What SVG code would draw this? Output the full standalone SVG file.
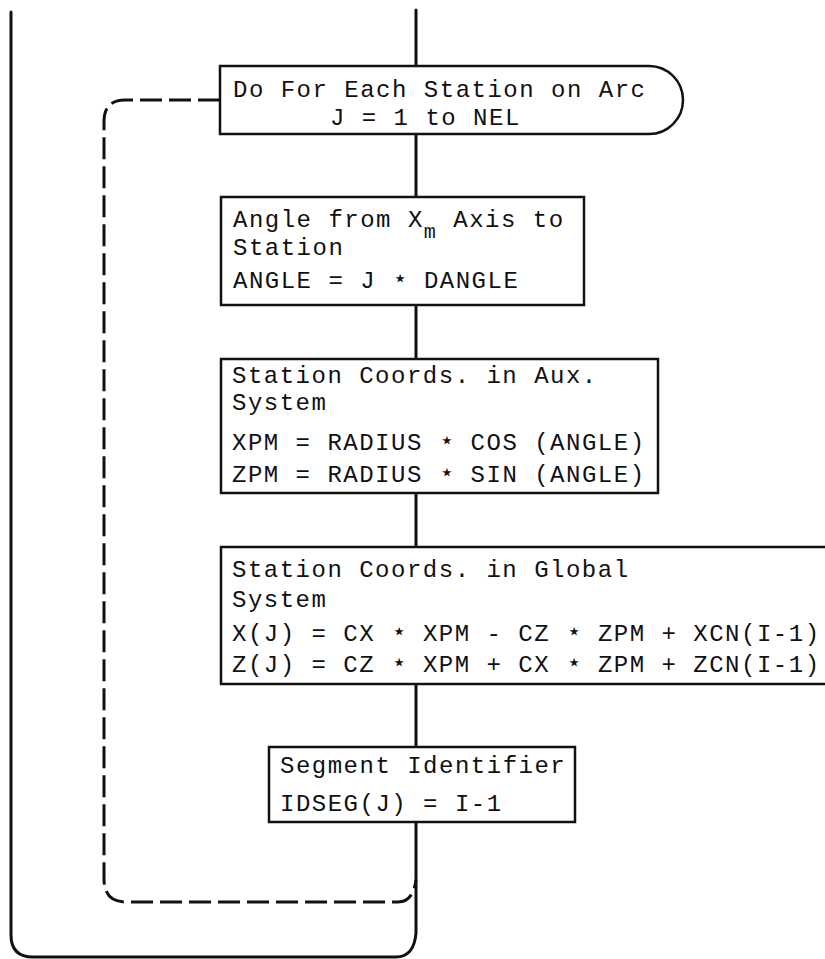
<svg xmlns="http://www.w3.org/2000/svg" width="825" height="959" viewBox="0 0 825 959">
<style>
.box{fill:#fff;stroke:#111;stroke-width:2.5}
.ln{fill:none;stroke:#111;stroke-width:3;stroke-linecap:round}
.dash{fill:none;stroke:#111;stroke-width:3;stroke-dasharray:22 7}
text{font-family:"Liberation Mono","DejaVu Sans Mono",monospace;font-size:24px;letter-spacing:1.5px;fill:#111}
.sub{font-size:20px}
.st{font-size:27px;letter-spacing:-0.3px}
</style>
<rect width="825" height="959" fill="#fff"/>
<g id="connectors">
<path class="ln" d="M416,10 V66 M416,134 V197 M416,305 V359 M416,493 V547 M416,684 V747"/>
<path class="ln" d="M416,822 V933 Q414,957 396,957 H33 Q11,957 11,935 V12"/>
<path class="dash" d="M220,100 H125 Q104,100 104,122 V879 Q104,902 126,902 H398 Q413,902 416,880"/>
</g>
<g id="n1">
<path class="box" d="M220,66 H649 A34,34 0 0 1 649,134 H220 Z"/>
<text x="233" y="97">Do For Each Station on Arc</text>
<text x="330" y="125">J = 1 to NEL</text>
</g>
<g id="n2">
<rect class="box" x="221" y="197" width="363" height="108"/>
<text x="233" y="227">Angle from X<tspan class="sub" dy="11">m</tspan><tspan dy="-11"> Axis to</tspan></text>
<text x="233" y="255">Station</text>
<text x="233" y="288">ANGLE = J <tspan class="st">⋆</tspan> DANGLE</text>
</g>
<g id="n3">
<rect class="box" x="221" y="359" width="437" height="134"/>
<text x="232" y="383">Station Coords. in Aux.</text>
<text x="232" y="410">System</text>
<text x="232" y="450">XPM = RADIUS <tspan class="st">⋆</tspan> COS (ANGLE)</text>
<text x="232" y="482">ZPM = RADIUS <tspan class="st">⋆</tspan> SIN (ANGLE)</text>
</g>
<g id="n4">
<rect class="box" x="221" y="547" width="620" height="137"/>
<text x="232" y="577">Station Coords. in Global</text>
<text x="232" y="607">System</text>
<text x="232" y="641">X(J) = CX <tspan class="st">⋆</tspan> XPM - CZ <tspan class="st">⋆</tspan> ZPM + XCN(I-1)</text>
<text x="232" y="672">Z(J) = CZ <tspan class="st">⋆</tspan> XPM + CX <tspan class="st">⋆</tspan> ZPM + ZCN(I-1)</text>
</g>
<g id="n5">
<rect class="box" x="269" y="747" width="306" height="75"/>
<text x="280" y="773">Segment Identifier</text>
<text x="280" y="811">IDSEG(J) = I-1</text>
</g>
</svg>
